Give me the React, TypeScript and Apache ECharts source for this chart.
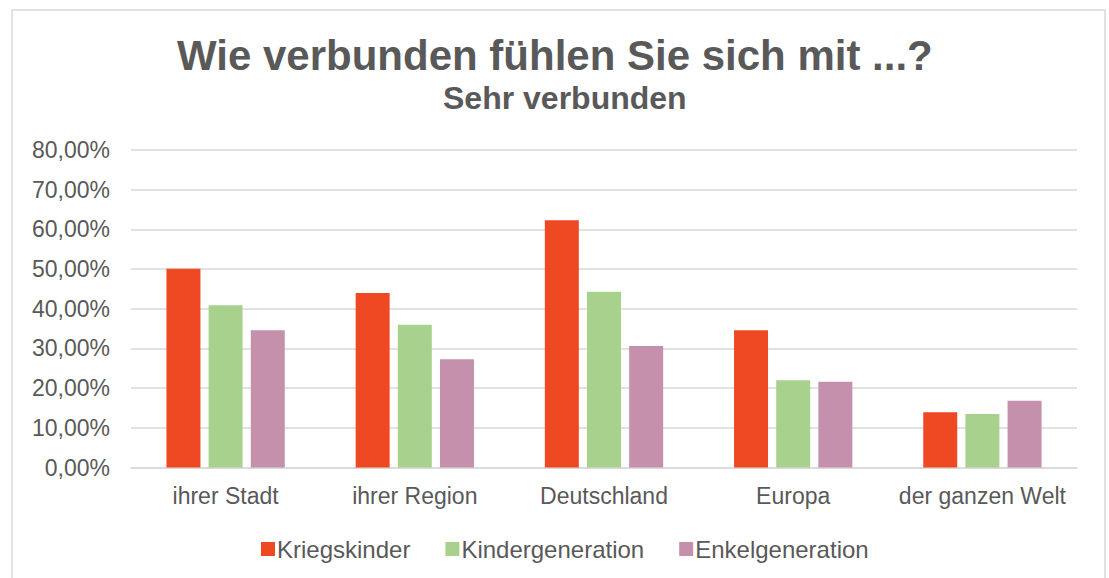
import React, { useEffect, useRef } from "react";
import * as echarts from "echarts";

const categories = ["ihrer Stadt", "ihrer Region", "Deutschland", "Europa", "der ganzen Welt"];
const kriegskinder = [50.1, 44.0, 62.3, 34.6, 13.9];
const kindergeneration = [40.9, 36.0, 44.3, 22.0, 13.5];
const enkelgeneration = [34.6, 27.3, 30.6, 21.6, 16.8];
const seriesNames = ["Kriegskinder", "Kindergeneration", "Enkelgeneration"];
const colors = ["#EE4923", "#A9D18E", "#C490AB"];
const yTicks = { min: 0, max: 80, interval: 10 };

const textColor = "#595959";
const fontFamily = "'Liberation Sans', Arial, sans-serif";

export default function App() {
  const ref = useRef<HTMLDivElement>(null);
  useEffect(() => {
    if (!ref.current) return;
    const chart = echarts.init(ref.current, null, { renderer: "svg" });
    const data = [kriegskinder, kindergeneration, enkelgeneration];
    chart.setOption({
      animation: false,
      backgroundColor: "#ffffff",
      textStyle: { fontFamily },
      graphic: [
        {
          type: "rect",
          shape: { x: 12, y: 10, width: 1093, height: 590 },
          style: { fill: "none", stroke: "#d9d9d9", lineWidth: 1.5 },
          silent: true,
        },
      ],
      title: [
        {
          text: "Wie verbunden fühlen Sie sich mit ...?",
          left: 172,
          top: 29,
          textStyle: { fontSize: 42, fontWeight: "bold", color: textColor, fontFamily },
        },
        {
          text: "Sehr verbunden",
          left: 438,
          top: 77,
          textStyle: { fontSize: 32, fontWeight: "bold", color: textColor, fontFamily },
        },
      ],
      legend: {
        top: 532,
        left: 256,
        itemWidth: 14,
        itemHeight: 14,
        itemGap: 35,
        icon: "rect",
        textStyle: { fontSize: 24, color: textColor, fontFamily, padding: [0, 0, 0, -3] },
        data: seriesNames,
      },
      grid: { left: 131, right: 32, top: 150, bottom: 110.5 },
      xAxis: {
        type: "category",
        data: categories,
        axisLine: { show: true, lineStyle: { color: "#d9d9d9", width: 1.5 } },
        axisTick: { show: false },
        axisLabel: { fontSize: 23, color: textColor, fontFamily, margin: 17, interval: 0 },
      },
      yAxis: {
        type: "value",
        min: yTicks.min,
        max: yTicks.max,
        interval: yTicks.interval,
        axisLine: { show: false },
        axisTick: { show: false },
        splitLine: { lineStyle: { color: "#d9d9d9", width: 1.5 } },
        axisLabel: {
          fontSize: 23,
          color: textColor,
          fontFamily,
          margin: 21,
          formatter: (v: number) => v.toFixed(2).replace(".", ",") + "%",
        },
      },
      series: seriesNames.map((name, i) => ({
        name,
        type: "bar",
        data: data[i],
        barWidth: 34,
        barGap: "24%",
        itemStyle: { color: colors[i] },
      })),
    });
    return () => chart.dispose();
  }, []);
  return (
    <div
      ref={ref}
      style={{ position: "fixed", left: 0, top: 0, width: 1109, height: 578 }}
    />
  );
}
